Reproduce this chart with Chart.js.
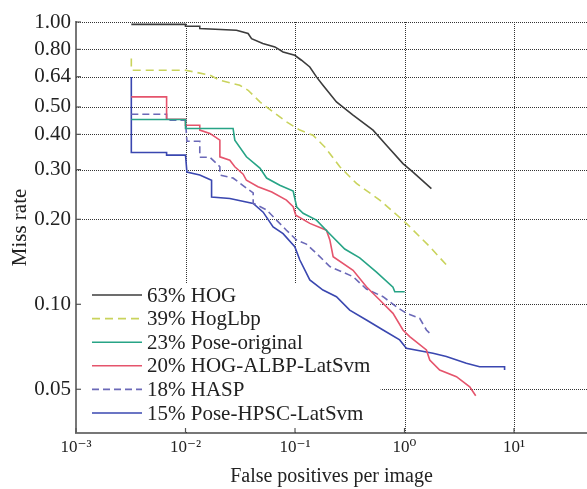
<!DOCTYPE html>
<html>
<head>
<meta charset="utf-8">
<script src="https://cdn.jsdelivr.net/npm/chart.js@4/dist/chart.umd.min.js"></script>
<style>
  html, body { margin: 0; padding: 0; background: #fff; }
  #plot { display: block; }
</style>
</head>
<body>
<canvas id="plot" width="587" height="489"></canvas>
<script>
// miss rate vs false positives per image
const hogX = [0.0032, 0.01, 0.01, 0.0135, 0.0135, 0.0292, 0.0373, 0.0401, 0.0508, 0.0655, 0.0778, 0.0995, 0.1146, 0.1365, 0.157, 0.18, 0.239, 0.339, 0.516, 0.684, 0.968, 1.196, 1.76];
const hogY = [0.981, 0.981, 0.966, 0.966, 0.948, 0.935, 0.91, 0.873, 0.839, 0.816, 0.783, 0.762, 0.732, 0.693, 0.639, 0.597, 0.521, 0.468, 0.414, 0.366, 0.315, 0.294, 0.257];

const lbpX = [0.0032, 0.0032, 0.01, 0.0167, 0.0206, 0.0313, 0.0373, 0.0478, 0.0631, 0.0835, 0.1107, 0.146, 0.187, 0.2566, 0.364, 0.594, 1.04, 1.7, 2.49];
const lbpY = [0.742, 0.675, 0.675, 0.648, 0.622, 0.597, 0.573, 0.521, 0.48, 0.443, 0.414, 0.397, 0.361, 0.307, 0.268, 0.234, 0.1935, 0.16, 0.136];

const poseX = [0.0032, 0.01, 0.01, 0.0272, 0.0282, 0.036, 0.0478, 0.055, 0.0726, 0.0962, 0.1037, 0.1186, 0.157, 0.208, 0.2845, 0.39, 0.555, 0.785, 0.815, 1.005];
const poseY = [0.4515, 0.4515, 0.4195, 0.4195, 0.3815, 0.333, 0.3036, 0.28, 0.264, 0.252, 0.221, 0.21, 0.1987, 0.1774, 0.157, 0.146, 0.13, 0.115, 0.1108, 0.1108];

const albpX = [0.0032, 0.00672, 0.00672, 0.01, 0.01, 0.0135, 0.0135, 0.0167, 0.0206, 0.0206, 0.0254, 0.0282, 0.0336, 0.036, 0.0459, 0.0614, 0.0835, 0.0962, 0.1016, 0.1365, 0.1936, 0.208, 0.223, 0.339, 0.449, 0.594, 0.785, 0.968, 1.115, 1.585, 1.7, 2.095, 2.98, 3.94, 4.47];
const albpY = [0.543, 0.543, 0.4525, 0.4525, 0.431, 0.431, 0.414, 0.403, 0.3815, 0.333, 0.324, 0.307, 0.289, 0.275, 0.261, 0.25, 0.234, 0.2215, 0.207, 0.1935, 0.183, 0.169, 0.1474, 0.132, 0.1154, 0.1036, 0.0929, 0.0811, 0.0768, 0.0689, 0.0635, 0.0585, 0.0554, 0.051, 0.0474];

const haspX = [0.0032, 0.00672, 0.00672, 0.01, 0.0103, 0.0135, 0.0135, 0.0167, 0.0206, 0.0206, 0.0272, 0.036, 0.0415, 0.0415, 0.055, 0.0677, 0.0835, 0.1033, 0.127, 0.157, 0.208, 0.339, 0.449, 0.637, 0.843, 1.04, 1.377, 1.585, 1.7];
const haspY = [0.471, 0.471, 0.449, 0.449, 0.378, 0.378, 0.332, 0.332, 0.307, 0.287, 0.28, 0.258, 0.248, 0.228, 0.216, 0.1987, 0.183, 0.169, 0.1634, 0.1515, 0.136, 0.1253, 0.1132, 0.1064, 0.098, 0.0929, 0.0892, 0.0811, 0.079];

const hpscX = [0.0032, 0.0032, 0.00672, 0.00672, 0.01, 0.0103, 0.0135, 0.0173, 0.0173, 0.0254, 0.0415, 0.0512, 0.0631, 0.0778, 0.0995, 0.1107, 0.1365, 0.18, 0.239, 0.316, 0.449, 0.637, 0.903, 1.04, 1.82, 2.41, 3.67, 4.85, 8.2, 8.2];
const hpscY = [0.639, 0.345, 0.345, 0.3376, 0.3376, 0.294, 0.287, 0.275, 0.24, 0.237, 0.2277, 0.212, 0.188, 0.178, 0.16, 0.1435, 0.122, 0.1123, 0.1064, 0.0954, 0.088, 0.0811, 0.0748, 0.0699, 0.0671, 0.0653, 0.0618, 0.0601, 0.0601, 0.0585];

const seriesNames = ["63% HOG", "39% HogLbp", "23% Pose-original", "20% HOG-ALBP-LatSvm", "18% HASP", "15% Pose-HPSC-LatSvm"];
const seriesColors = ["#3c3c3c", "#c9d35c", "#27a486", "#e5546c", "#6b69b8", "#3a47b0"];
const seriesDash = [[], [8, 5], [], [], [7, 4], []];

const xTicks = [0.001, 0.01, 0.1, 1, 10];
const xTickLabels = ["10\u207B\u00B3", "10\u207B\u00B2", "10\u207B\u00B9", "10\u2070", "10\u00B9"];
const yTicks = [0.05, 0.1, 0.2, 0.3, 0.4, 0.5, 0.64, 0.8, 1.0];

const xs = [hogX, lbpX, poseX, albpX, haspX, hpscX];
const ys = [hogY, lbpY, poseY, albpY, haspY, hpscY];

const datasets = seriesNames.map((name, i) => ({
  label: name,
  data: xs[i].map((x, j) => ({ x: x, y: ys[i][j] })),
  borderColor: seriesColors[i],
  borderDash: seriesDash[i],
  borderWidth: 1.6,
  pointRadius: 0,
  tension: 0,
  fill: false
}));

const serif = "'Liberation Serif', 'DejaVu Serif', serif";

// dotted grid, legend box and inward ticks, all under the curves
const boxLegend = {
  id: "boxLegend",
  beforeDatasetsDraw(chart) {
    const ctx = chart.ctx;
    const a = chart.chartArea;
    const sx = chart.scales.x, sy = chart.scales.y;
    ctx.save();

    ctx.strokeStyle = "#333";
    ctx.lineWidth = 1;
    ctx.setLineDash([1, 1]);
    xTicks.slice(1).forEach(v => {
      const px = Math.round(sx.getPixelForValue(v)) + 0.5;
      ctx.beginPath(); ctx.moveTo(px, a.top); ctx.lineTo(px, a.bottom); ctx.stroke();
    });
    yTicks.forEach(v => {
      const py = Math.round(sy.getPixelForValue(v)) + 0.5;
      ctx.beginPath(); ctx.moveTo(a.left, py); ctx.lineTo(a.right, py); ctx.stroke();
    });
    ctx.setLineDash([]);

    ctx.fillStyle = "#fff";
    ctx.fillRect(a.left + 1.5, 283, 303, a.bottom - 283 - 1.5);

    ctx.strokeStyle = "#555";
    ctx.lineWidth = 1.2;
    xTicks.forEach(v => {
      const px = sx.getPixelForValue(v);
      ctx.beginPath(); ctx.moveTo(px, a.bottom); ctx.lineTo(px, a.bottom - 5); ctx.stroke();
    });
    yTicks.forEach(v => {
      const py = sy.getPixelForValue(v);
      ctx.beginPath(); ctx.moveTo(a.left, py); ctx.lineTo(a.left + 5, py); ctx.stroke();
    });

    seriesNames.forEach((name, i) => {
      const y = 295 + i * 23.6;
      ctx.strokeStyle = seriesColors[i];
      ctx.lineWidth = 1.6;
      ctx.setLineDash(seriesDash[i]);
      ctx.beginPath();
      ctx.moveTo(92, y);
      ctx.lineTo(142, y);
      ctx.stroke();
      ctx.setLineDash([]);
      ctx.fillStyle = "#222";
      ctx.font = "21px " + serif;
      ctx.textBaseline = "middle";
      ctx.fillText(name, 147, y + 1);
    });
    ctx.restore();
  }
};

new Chart(document.getElementById("plot"), {
  type: "line",
  data: { datasets: datasets },
  options: {
    responsive: false,
    animation: false,
    layout: { padding: { top: 22, right: 0, bottom: 0, left: 0 } },
    plugins: { legend: { display: false }, tooltip: { enabled: false } },
    scales: {
      x: {
        type: "logarithmic",
        min: 0.001,
        max: 46.4,
        afterBuildTicks: s => { s.ticks = xTicks.map(v => ({ value: v })); },
        afterFit: s => { s.height = 56; },
        ticks: {
          color: "#222",
          font: { family: serif, size: 17 },
          padding: 4,
          maxRotation: 0,
          callback: (v) => xTickLabels[xTicks.indexOf(v)]
        },
        grid: { display: false, drawTicks: false },
        border: { display: true, color: "#777", width: 2 },
        title: {
          display: true,
          text: "False positives per image",
          color: "#222",
          font: { family: serif, size: 20 },
          padding: { top: 4, bottom: 0 }
        }
      },
      y: {
        type: "logarithmic",
        min: 0.035,
        max: 1.0,
        afterBuildTicks: s => { s.ticks = yTicks.map(v => ({ value: v })); },
        afterFit: s => { s.width = 76; },
        ticks: {
          color: "#222",
          font: { family: serif, size: 21 },
          padding: 5,
          callback: (v) => Number(v).toFixed(2)
        },
        grid: { display: false, drawTicks: false },
        border: { display: true, color: "#777", width: 2 },
        title: {
          display: true,
          text: "Miss rate",
          color: "#222",
          font: { family: serif, size: 21 },
          padding: { top: 8, bottom: 0 }
        }
      }
    }
  },
  plugins: [boxLegend]
});
</script>
</body>
</html>
